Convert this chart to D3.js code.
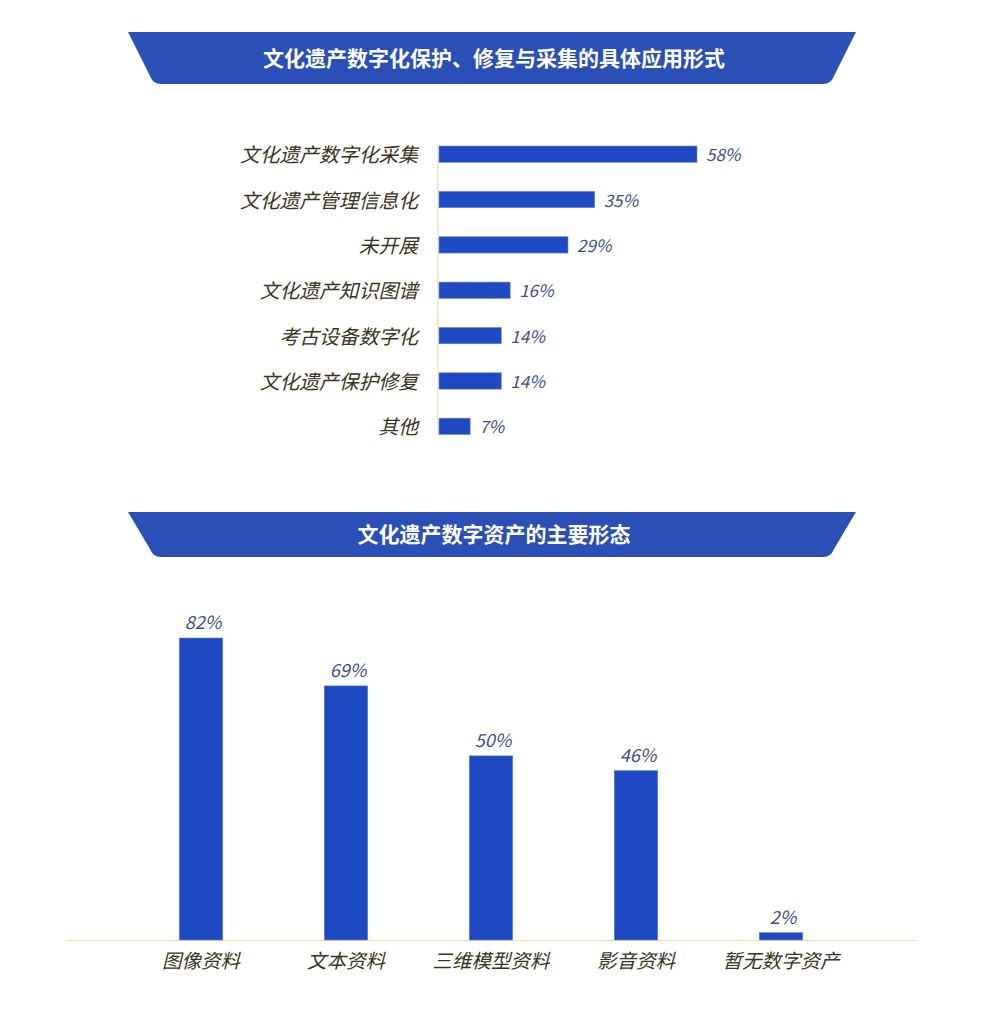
<!DOCTYPE html>
<html>
<head>
<meta charset="utf-8">
<script src="https://cdn.jsdelivr.net/npm/d3@7"></script>
<style>
  body { margin: 0; background: #fff; }
  text { font-family: "Noto Sans CJK SC", "Noto Sans", sans-serif; }
</style>
</head>
<body>
<svg id="chart" width="984" height="1020"></svg>
<script>
//// data
var titles = ["文化遗产数字化保护、修复与采集的具体应用形式", "文化遗产数字资产的主要形态"];

var useCats = ["文化遗产数字化采集", "文化遗产管理信息化", "未开展", "文化遗产知识图谱",
               "考古设备数字化", "文化遗产保护修复", "其他"];
var useVals = [58, 35, 29, 16, 14, 14, 7];

var formCats = ["图像资料", "文本资料", "三维模型资料", "影音资料", "暂无数字资产"];
var formVals = [82, 69, 50, 46, 2];

var svg = d3.select("svg#chart");

var barColor = "#1f49c2",
    barEdge = "#7188c9",
    labelColor = "#3b3322",
    valueColor = "#3f4d91",
    lineColor = "#f0dcae";

// banner with slanted sides and rounded bottom corners
function banner(y0, y1, text, ty) {
  var l0 = 128, r0 = 856, l1 = 153, r1 = 831, r = 8;
  var p = d3.path();
  p.moveTo(l0, y0);
  p.lineTo(r0, y0);
  p.lineTo(r1 + 3, y1 - r);
  p.quadraticCurveTo(r1, y1, r1 - r, y1);
  p.lineTo(l1 + r, y1);
  p.quadraticCurveTo(l1, y1, l1 - 3, y1 - r);
  p.closePath();
  svg.append("path").attr("d", p.toString()).attr("fill", "#2a4fb6");
  svg.append("text")
     .attr("x", 494).attr("y", ty)
     .attr("text-anchor", "middle")
     .attr("fill", "#fff")
     .style("font-size", "21px")
     .style("font-weight", "bold")
     .text(text);
}

banner(32, 84, titles[0], 66);
banner(512, 557, titles[1], 542);

//// horizontal bars
var x = d3.scaleLinear().domain([0, 58]).range([439, 697]);
var yb = d3.scaleBand().domain(useCats).range([131.5, 449])
           .paddingInner(0.64).paddingOuter(0.32);

svg.append("line")
   .attr("x1", 438).attr("x2", 438)
   .attr("y1", 145).attr("y2", 436)
   .attr("stroke", lineColor).attr("stroke-width", 1.2);

svg.selectAll("rect.hbar")
   .data(useVals)
   .enter().append("rect")
   .attr("class", "hbar")
   .attr("x", x(0))
   .attr("y", function(d, i) { return yb(useCats[i]); })
   .attr("width", function(d) { return x(d) - x(0); })
   .attr("height", yb.bandwidth())
   .attr("fill", barColor)
   .attr("stroke", barEdge).attr("stroke-width", 0.6);

svg.selectAll("text.hcat")
   .data(useCats)
   .enter().append("text")
   .attr("class", "hcat")
   .attr("x", 418)
   .attr("y", function(d) { return yb(d) + yb.bandwidth() / 2 + 8; })
   .attr("text-anchor", "end")
   .attr("fill", labelColor)
   .style("font-size", "19.8px")
   .style("font-style", "italic")
   .text(function(d) { return d; });

svg.selectAll("text.hval")
   .data(useVals)
   .enter().append("text")
   .attr("class", "hval")
   .attr("x", function(d) { return x(d) + 9; })
   .attr("y", function(d, i) { return yb(useCats[i]) + yb.bandwidth() / 2 + 7; })
   .attr("fill", valueColor)
   .style("font-size", "17px")
   .style("font-style", "italic")
   .text(function(d) { return d + "%"; });

//// vertical bars
var xb = d3.scaleBand().domain(formCats).range([128.5, 853.5])
           .paddingInner(0.7).paddingOuter(0.35);
var y = d3.scaleLinear().domain([0, 82]).range([940, 638]);

svg.append("line")
   .attr("x1", 66).attr("x2", 916)
   .attr("y1", 940.5).attr("y2", 940.5)
   .attr("stroke", lineColor).attr("stroke-width", 1.2);

svg.selectAll("rect.vbar")
   .data(formVals)
   .enter().append("rect")
   .attr("class", "vbar")
   .attr("x", function(d, i) { return xb(formCats[i]); })
   .attr("y", function(d) { return y(d); })
   .attr("width", xb.bandwidth())
   .attr("height", function(d) { return y(0) - y(d); })
   .attr("fill", barColor)
   .attr("stroke", barEdge).attr("stroke-width", 0.6);

svg.selectAll("text.vval")
   .data(formVals)
   .enter().append("text")
   .attr("class", "vval")
   .attr("x", function(d, i) { return xb(formCats[i]) + xb.bandwidth() / 2 + 2; })
   .attr("y", function(d) { return y(d) - 9; })
   .attr("text-anchor", "middle")
   .attr("fill", valueColor)
   .style("font-size", "18px")
   .style("font-style", "italic")
   .text(function(d) { return d + "%"; });

svg.selectAll("text.vcat")
   .data(formCats)
   .enter().append("text")
   .attr("class", "vcat")
   .attr("x", function(d) { return xb(d) + xb.bandwidth() / 2; })
   .attr("y", 968)
   .attr("text-anchor", "middle")
   .attr("fill", labelColor)
   .style("font-size", "19.5px")
   .style("font-style", "italic")
   .text(function(d) { return d; });
</script>
</body>
</html>
